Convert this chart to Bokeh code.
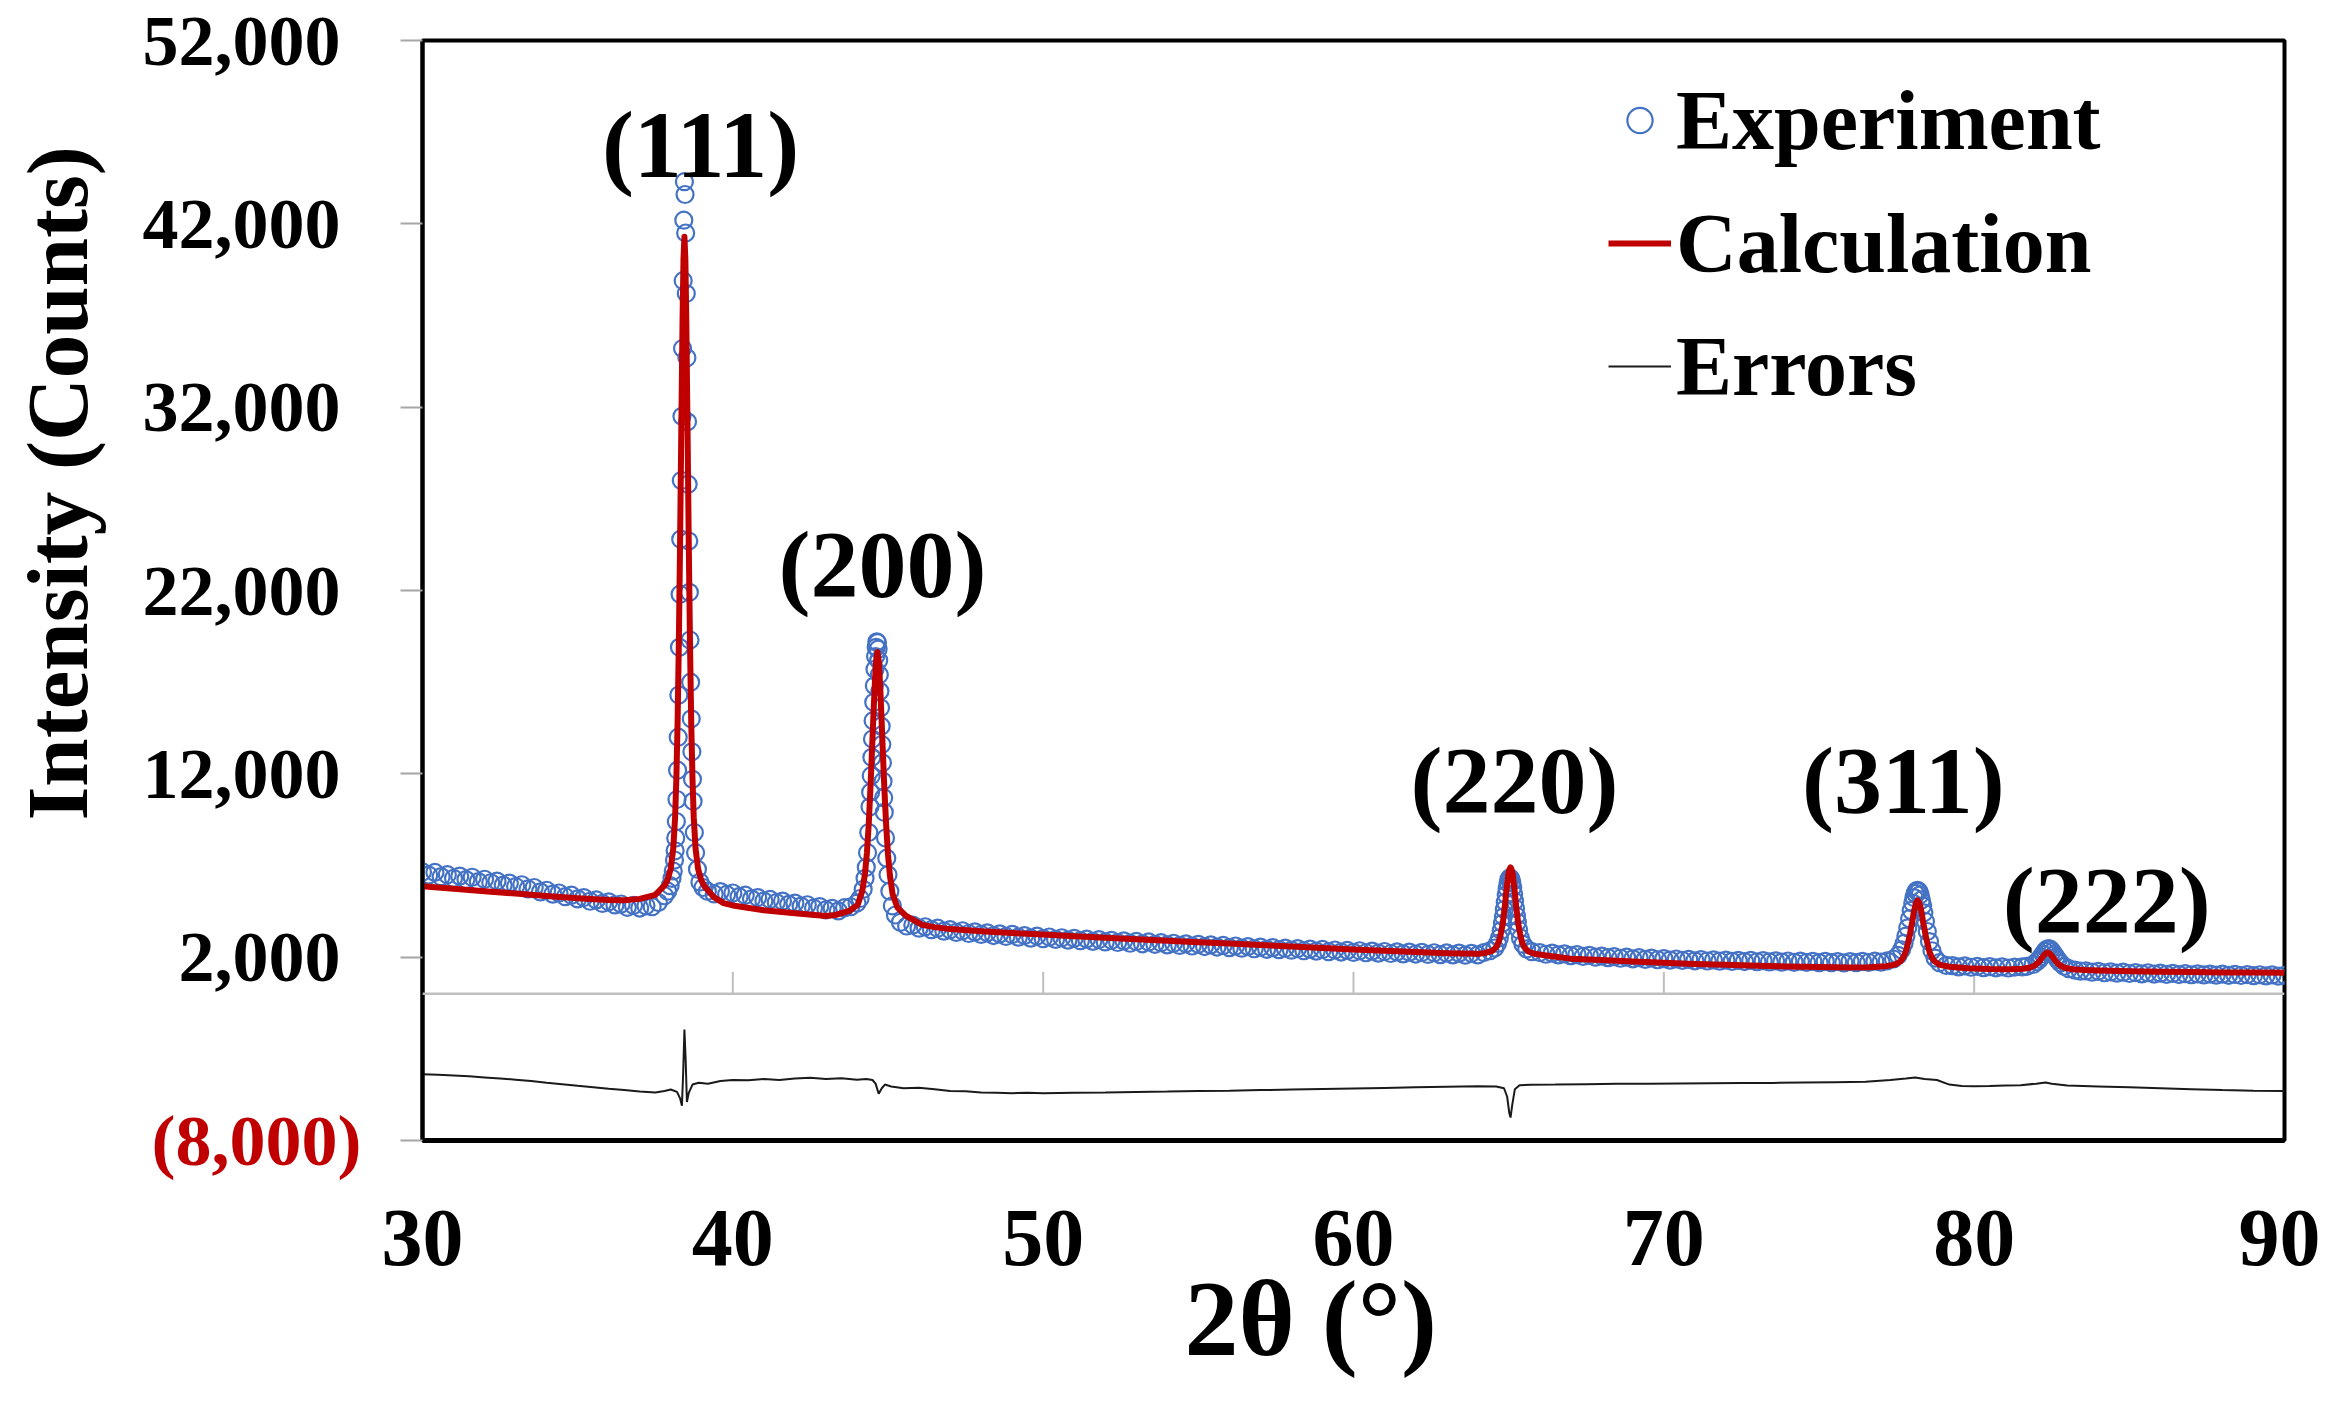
import math
from bokeh.plotting import figure
from bokeh.models import (Range1d, FixedTicker, NumeralTickFormatter, Label, Span,
                          Legend, LegendItem, LinearAxis, Title)
from bokeh.embed import file_html
from bokeh.resources import INLINE

# ------------------------------------------------------------------ data
# Experiment: background parts on a uniform 0.2 deg scan grid (start, step, counts)
exp_bg1_start, exp_bg1_step = 30.0, 0.2
exp_bg1_counts = [6650, 6480, 6620, 6390, 6500, 6300, 6420, 6230, 6360, 6120,
                  6250, 6060, 6150, 5930, 6040, 5850, 5950, 5720, 5800, 5560,
                  5650, 5440, 5500, 5300, 5380, 5180, 5250, 5050, 5120, 4930,
                  5020, 4850, 4900, 4720, 4820, 4680, 4800, 4750, 4980]
exp_bg2_start, exp_bg2_step = 39.4, 0.2
exp_bg2_counts = [5450, 5580, 5420, 5500, 5300, 5380, 5180, 5250, 5060, 5150,
                  4980, 5060, 4880, 4950, 4780, 4860, 4680, 4760, 4580, 4660, 4520]
exp_bg3_start, exp_bg3_step = 45.8, 0.2
exp_bg3_counts = [3750, 3580, 3660, 3500, 3580, 3420, 3500, 3350, 3440, 3290,
                  3380, 3240, 3330, 3180, 3270, 3130, 3240, 3090, 3180, 3040,
                  3150, 3010, 3100, 2970, 3060, 2930, 3030, 2900, 2990, 2860,
                  2960, 2830, 2920, 2800, 2890, 2760, 2860, 2730, 2830, 2700,
                  2790, 2670, 2760, 2640, 2730, 2610, 2700, 2580, 2670, 2550,
                  2640, 2520, 2610, 2490, 2580, 2460, 2550, 2430, 2520, 2410,
                  2490, 2380, 2470, 2350, 2440, 2330, 2420, 2300, 2390, 2280,
                  2370, 2260, 2350, 2240, 2330, 2220, 2310, 2200, 2290, 2180,
                  2270, 2170, 2260, 2150, 2240, 2140, 2230, 2120, 2220, 2110,
                  2210, 2120, 2250]
exp_bg4_start, exp_bg4_step = 66.0, 0.2
exp_bg4_counts = [2250, 2160, 2220, 2120, 2180, 2080, 2140, 2040, 2100, 2000,
                  2060, 1970, 2030, 1940, 2000, 1910, 1970, 1880, 1950, 1860,
                  1920, 1840, 1900, 1820, 1880, 1800, 1870, 1790, 1850, 1780,
                  1840, 1770, 1830, 1760, 1820, 1750, 1810, 1740, 1800, 1730,
                  1790, 1720, 1780, 1710, 1770, 1700, 1770, 1700, 1760, 1690,
                  1760, 1700, 1770, 1710, 1780, 1730]
exp_bg5_start, exp_bg5_step = 79.3, 0.2
exp_bg5_counts = [1540, 1470, 1520, 1450, 1500, 1430, 1480, 1420, 1470, 1410, 1460]
exp_bg6_start, exp_bg6_step = 83.6, 0.2
exp_bg6_counts = [1250, 1180, 1230, 1150, 1200, 1130, 1180, 1110, 1160, 1090,
                  1150, 1080, 1130, 1060, 1120, 1050, 1100, 1040, 1090, 1030,
                  1080, 1020, 1070, 1010, 1060, 1000, 1050, 990, 1040, 980,
                  1030, 970, 1010]

# Experiment: peak windows (finer scan points)
exp_111_2theta = [37.80, 37.90, 37.98, 38.04, 38.08, 38.12, 38.14, 38.16, 38.18, 38.20,
                  38.22, 38.24, 38.26, 38.28, 38.30, 38.32, 38.34, 38.36, 38.38, 38.40,
                  38.42, 38.44, 38.46, 38.48, 38.50, 38.52, 38.54, 38.56, 38.58, 38.60,
                  38.62, 38.64, 38.66, 38.68, 38.70, 38.72, 38.76, 38.80, 38.86, 38.94,
                  39.04, 39.18]
exp_111_counts = [5350, 5600, 5900, 6300, 6700, 7300, 7800, 8500, 9400, 10600,
                  12200, 14000, 16300, 18900, 21800, 24800, 28000, 31500, 35200, 38900,
                  42200, 44300, 43600, 41500, 38200, 34700, 31200, 27800, 24700, 21900,
                  19300, 17000, 15000, 13200, 11700, 10500, 8800, 7700, 6800, 6100,
                  5800, 5600]
exp_200_2theta = [43.60, 43.80, 44.00, 44.10, 44.20, 44.26, 44.30, 44.34, 44.38, 44.42,
                  44.44, 44.46, 44.48, 44.50, 44.52, 44.54, 44.56, 44.58, 44.60, 44.62,
                  44.64, 44.66, 44.68, 44.70, 44.72, 44.74, 44.76, 44.78, 44.80, 44.82,
                  44.84, 44.86, 44.88, 44.92, 44.96, 45.00, 45.06, 45.14, 45.24, 45.40,
                  45.60]
exp_200_counts = [4700, 4750, 4950, 5200, 5700, 6300, 6900, 7700, 8800, 10200,
                  11000, 11900, 12900, 13900, 14900, 15900, 16800, 17700, 18400, 18900,
                  19200, 19150, 18800, 18200, 17400, 16500, 15600, 14600, 13600, 12600,
                  11600, 10700, 9900, 8500, 7400, 6500, 5600, 4800, 4300, 3900,
                  3700]
exp_220_2theta = [64.40, 64.55, 64.64, 64.70, 64.76, 64.80, 64.83, 64.86, 64.89, 64.92,
                  64.95, 64.98, 65.01, 65.04, 65.07, 65.10, 65.13, 65.16, 65.19, 65.22,
                  65.25, 65.28, 65.32, 65.38, 65.46, 65.58, 65.75]
exp_220_counts = [2350, 2500, 2750, 3050, 3450, 3850, 4200, 4600, 5000, 5400,
                  5750, 6050, 6250, 6330, 6280, 6100, 5800, 5450, 5050, 4650,
                  4250, 3900, 3500, 3050, 2700, 2450, 2300]
exp_311_2theta = [77.20, 77.40, 77.55, 77.66, 77.74, 77.80, 77.86, 77.92, 77.97, 78.02,
                  78.06, 78.10, 78.14, 78.18, 78.22, 78.26, 78.30, 78.34, 78.38, 78.43,
                  78.49, 78.56, 78.64, 78.74, 78.88, 79.10]
exp_311_counts = [1800, 1900, 2100, 2400, 2750, 3150, 3600, 4100, 4550, 4950,
                  5250, 5480, 5620, 5650, 5580, 5400, 5120, 4800, 4420, 3950,
                  3400, 2850, 2350, 1950, 1700, 1550]
exp_222_2theta = [81.55, 81.70, 81.90, 82.02, 82.10, 82.16, 82.22, 82.28, 82.34, 82.40,
                  82.46, 82.52, 82.58, 82.64, 82.70, 82.78, 82.90, 83.05, 83.25, 83.42]
exp_222_counts = [1470, 1500, 1600, 1750, 1880, 2020, 2170, 2320, 2430, 2470,
                  2420, 2300, 2150, 2000, 1850, 1680, 1500, 1370, 1290, 1240]

# Calculation (fitted profile)
calc_2theta = [30, 31, 32, 33, 34, 35, 36, 36.5, 37, 37.5,
               37.80, 37.90, 38.00, 38.08, 38.14, 38.18, 38.22, 38.26, 38.30, 38.34,
               38.38, 38.41, 38.44, 38.47, 38.50, 38.54, 38.58, 38.62, 38.66, 38.70,
               38.74, 38.80, 38.88, 38.98, 39.08, 39.40, 39.70, 40.0, 41.0, 42.0, 43.0,
               43.30, 43.75, 44.02, 44.17, 44.26, 44.32, 44.38, 44.44, 44.47, 44.50,
               44.53, 44.56, 44.59, 44.62, 44.66, 44.70, 44.73, 44.76, 44.79, 44.82,
               44.85, 44.88, 44.94, 45.00, 45.06, 45.15, 45.30, 45.57, 46.10, 46.50,
               47, 48, 49, 50, 51, 52, 53, 54, 55, 56, 57, 58, 59, 60, 61, 62, 63,
               64.00, 64.25, 64.49, 64.62, 64.70, 64.75, 64.81, 64.86, 64.89, 64.91,
               64.94, 64.97, 64.99, 65.02, 65.06, 65.10, 65.13, 65.15, 65.18, 65.21,
               65.23, 65.26, 65.31, 65.37, 65.42, 65.50, 65.63, 65.87, 66.33, 67.00,
               68, 69, 70, 71, 72, 73, 74, 75, 76,
               76.60, 77.16, 77.46, 77.63, 77.73, 77.80, 77.86, 77.93, 77.96, 78.00,
               78.03, 78.06, 78.10, 78.13, 78.18, 78.23, 78.26, 78.30, 78.33, 78.36,
               78.40, 78.43, 78.50, 78.56, 78.63, 78.73, 78.90, 79.20, 79.80, 80.50,
               81.17, 81.57, 81.82, 81.97, 82.07, 82.13, 82.19, 82.25, 82.31, 82.37,
               82.43, 82.49, 82.55, 82.61, 82.67, 82.77, 82.92, 83.17, 83.57,
               84, 85, 86, 87, 88, 89, 90]
calc_counts = [5870, 5730, 5600, 5470, 5340, 5220, 5120, 5110, 5180, 5400,
               5910, 6230, 6840, 7920, 9630, 11740, 14800, 19100, 24560, 30850,
               36820, 40100, 41300, 40100, 36810, 30840, 24550, 19090, 14790, 11730,
               9620, 7910, 6820, 6200, 5870, 5260, 4950, 4820, 4560, 4400, 4250,
               4300, 4520, 4850, 5600, 6570, 7680, 9270, 11450, 12680, 13920,
               15170, 16350, 17400, 18220, 18650, 18170, 17380, 16320, 15100, 13800,
               12550, 11300, 9200, 7600, 6480, 5430, 4720, 4260, 3760, 3640,
               3530, 3420, 3320, 3230, 3140, 3060, 2980, 2900, 2820, 2740, 2660, 2580, 2500, 2420, 2350, 2280, 2220,
               2180, 2230, 2360, 2600, 2940, 3300, 3830, 4540, 4950, 5380,
               5810, 6220, 6560, 6760, 6900, 6750, 6540, 6200, 5790, 5360,
               4930, 4520, 3810, 3260, 2880, 2550, 2310, 2170, 2060, 1920,
               1840, 1760, 1690, 1630, 1580, 1530, 1490, 1460, 1440,
               1450, 1510, 1600, 1780, 2030, 2310, 2720, 3245, 3550, 3870,
               4190, 4500, 4770, 4970, 5090, 4960, 4760, 4490, 4180, 3860,
               3540, 3230, 2700, 2290, 2010, 1760, 1580, 1480, 1390, 1350,
               1340, 1370, 1440, 1565, 1720, 1840, 1980, 2110, 2210, 2250,
               2205, 2095, 1960, 1820, 1700, 1545, 1420, 1345, 1300,
               1270, 1230, 1210, 1190, 1170, 1160, 1150]

# Errors (difference curve, plotted with an offset)
err_2theta = [30.0, 30.5, 31.0, 31.5, 32.0, 32.5, 33.0, 33.5, 34.0, 34.5,
              35.0, 35.5, 36.0, 36.5, 37.0, 37.5, 37.8, 38.0, 38.2, 38.3,
              38.36, 38.40, 38.44, 38.48, 38.52, 38.58, 38.7, 38.9, 39.2, 39.6,
              40.0, 40.5, 41.0, 41.5, 42.0, 42.5, 43.0, 43.5, 44.0, 44.3,
              44.5, 44.6, 44.7, 44.8, 44.9, 45.1, 45.5, 46.0, 46.5, 47.0,
              47.5, 48.0, 48.5, 49.0, 49.5, 50.0, 51.0, 52.0, 53.0, 54.0,
              55.0, 56.0, 57.0, 58.0, 59.0, 60.0, 61.0, 62.0, 63.0, 64.0,
              64.6, 64.85, 64.95, 65.02, 65.06, 65.12, 65.2, 65.35, 65.7, 66.5,
              67.5, 68.5, 69.5, 70.5, 71.5, 72.5, 73.5, 74.5, 75.5, 76.5,
              77.3, 77.8, 78.1, 78.4, 78.8, 79.2, 79.6, 80.0, 80.5, 81.0,
              81.5, 82.0, 82.3, 82.5, 83.0, 84.0, 85.0, 86.0, 87.0, 88.0,
              89.0, 90.0]
err_counts = [-4380, -4420, -4460, -4500, -4560, -4620, -4680, -4760, -4850, -4930,
              -5020, -5100, -5180, -5250, -5330, -5380, -5300, -5220, -5350, -5700,
              -6100, -4300, -1950, -3600, -5900, -5400, -4950, -4850, -4900, -4750,
              -4700, -4720, -4650, -4700, -4620, -4580, -4650, -4600, -4680, -4650,
              -4700, -4900, -5450, -5150, -4950, -5050, -5150, -5120, -5200, -5300,
              -5320, -5380, -5400, -5420, -5400, -5420, -5400, -5380, -5350, -5330,
              -5300, -5280, -5250, -5220, -5190, -5160, -5130, -5100, -5070, -5040,
              -5050, -5150, -5600, -6500, -6750, -6000, -5200, -4980, -4960, -4950,
              -4930, -4910, -4900, -4890, -4880, -4870, -4860, -4840, -4820, -4800,
              -4700, -4620, -4560, -4640, -4700, -4950, -5030, -5040, -5030, -5000,
              -4980, -4900, -4840, -4900, -5000, -5050, -5100, -5150, -5200, -5250,
              -5280, -5300]

# Axis ticks and labels
x_ticks = [30, 40, 50, 60, 70, 80, 90]
y_ticks = [-8000, 2000, 12000, 22000, 32000, 42000, 52000]
neg_tick = -8000
neg_tick_label = "(8,000)"
peak_labels = ["(111)", "(200)", "(220)", "(311)", "(222)"]
peak_label_2theta = [38.96, 44.82, 65.19, 77.72, 84.27]
peak_label_counts = [46330, 23420, 11630, 11630, 5090]


def scan_grid(start, step, counts):
    return [round(start + i * step, 3) for i in range(len(counts))]


exp_2theta = (scan_grid(exp_bg1_start, exp_bg1_step, exp_bg1_counts) + exp_111_2theta +
              scan_grid(exp_bg2_start, exp_bg2_step, exp_bg2_counts) + exp_200_2theta +
              scan_grid(exp_bg3_start, exp_bg3_step, exp_bg3_counts) + exp_220_2theta +
              scan_grid(exp_bg4_start, exp_bg4_step, exp_bg4_counts) + exp_311_2theta +
              scan_grid(exp_bg5_start, exp_bg5_step, exp_bg5_counts) + exp_222_2theta +
              scan_grid(exp_bg6_start, exp_bg6_step, exp_bg6_counts))
exp_counts = (exp_bg1_counts + exp_111_counts + exp_bg2_counts + exp_200_counts +
              exp_bg3_counts + exp_220_counts + exp_bg4_counts + exp_311_counts +
              exp_bg5_counts + exp_222_counts + exp_bg6_counts)

# ------------------------------------------------------------------ figure
FONT = "Liberation Serif"
X0, X1 = 30, 90
Y0, Y1 = -8000, 52000
FRAME_H = 1100

p = figure(width=2320, height=1400, x_range=Range1d(X0, X1), y_range=Range1d(Y0, Y1),
           output_backend="svg", toolbar_location=None,
           min_border_left=422, min_border_right=36, min_border_top=40, min_border_bottom=260)
p.xgrid.visible = False
p.ygrid.visible = False
p.background_fill_color = "white"
p.border_fill_color = "white"
p.outline_line_color = "black"
p.outline_line_width = 4

# x axis
p.xaxis.ticker = FixedTicker(ticks=x_ticks)
p.xaxis.major_tick_out = 0
p.xaxis.major_tick_in = 0
p.xaxis.minor_tick_out = 0
p.xaxis.minor_tick_in = 0
p.xaxis.axis_line_color = "black"
p.xaxis.axis_line_width = 5
p.xaxis.major_label_text_font = FONT
p.xaxis.major_label_text_font_style = "bold"
p.xaxis.major_label_text_font_size = "82px"
p.xaxis.major_label_text_color = "black"
p.xaxis.major_label_standoff = 70

# y axis (black labels)
p.yaxis.ticker = FixedTicker(ticks=y_ticks)
p.yaxis.formatter = NumeralTickFormatter(format="0,0")
p.yaxis.major_label_overrides = {neg_tick: " "}
p.yaxis.major_tick_out = 22
p.yaxis.major_tick_in = 0
p.yaxis.minor_tick_out = 0
p.yaxis.minor_tick_in = 0
p.yaxis.major_tick_line_color = "#A6A6A6"
p.yaxis.major_tick_line_width = 2
p.yaxis.axis_line_color = "black"
p.yaxis.axis_line_width = 4
p.yaxis.major_label_text_font = FONT
p.yaxis.major_label_text_font_style = "bold"
p.yaxis.major_label_text_font_size = "72px"
p.yaxis.major_label_text_color = "black"
p.yaxis.major_label_standoff = 60

# second left axis carrying only the red negative tick label
red_axis = LinearAxis(ticker=FixedTicker(ticks=[neg_tick]),
                      major_label_overrides={neg_tick: neg_tick_label},
                      major_tick_out=0, major_tick_in=0, minor_tick_out=0, minor_tick_in=0,
                      axis_line_color=None, major_tick_line_color=None,
                      major_label_text_font=FONT, major_label_text_font_style="bold",
                      major_label_text_font_size="72px", major_label_text_color="#C00000",
                      major_label_standoff=-222,
                      axis_label=" ", axis_label_standoff=43, axis_label_text_font_size="10px")
p.add_layout(red_axis, "left")

# axis titles
y_title = Title(text="Intensity (Counts)", align="left", offset=320, vertical_align="bottom",
                standoff=-28, text_font=FONT, text_font_style="bold", text_font_size="87px",
                text_color="black")
p.add_layout(y_title, "left")
x_title = Title(text="2\u03b8 (\u00b0)", align="left", offset=762, vertical_align="top",
                standoff=-18, text_font=FONT, text_font_style="bold", text_font_size="108px",
                text_color="black")
p.add_layout(x_title, "below")

# zero line with its tick marks
p.add_layout(Span(location=0, dimension="width", line_color="#BFBFBF", line_width=2.5))
tick_len = 22 * (Y1 - Y0) / FRAME_H
inner_ticks = [t for t in x_ticks if X0 < t < X1]
p.segment(x0=inner_ticks, y0=[0] * len(inner_ticks), x1=inner_ticks,
          y1=[tick_len] * len(inner_ticks), line_color="#BFBFBF", line_width=2)

# data
r_exp = p.scatter(exp_2theta, exp_counts, marker="circle", size=17,
                  line_color="#4472C4", line_width=2.2, fill_alpha=0)
r_calc = p.line(calc_2theta, calc_counts, line_color="#C00000", line_width=6,
                line_join="round")
r_err = p.line(err_2theta, err_counts, line_color="#1a1a1a", line_width=2)

# peak labels
for txt, px, py in zip(peak_labels, peak_label_2theta, peak_label_counts):
    p.add_layout(Label(x=px, y=py, text=txt, text_align="center", text_baseline="alphabetic",
                       text_font=FONT, text_font_style="bold", text_font_size="96px",
                       text_color="black"))

# legend
legend = Legend(items=[LegendItem(label="Experiment", renderers=[r_exp]),
                       LegendItem(label="Calculation", renderers=[r_calc]),
                       LegendItem(label="Errors", renderers=[r_err])],
                location=(1186, 724), orientation="vertical",
                label_text_font=FONT, label_text_font_style="bold",
                label_text_font_size="84px", label_text_color="black",
                glyph_width=63, glyph_height=100, label_height=100, spacing=23,
                padding=0, margin=0, label_standoff=5,
                border_line_alpha=0, background_fill_alpha=0)
p.add_layout(legend)

open("out.html", "w").write(file_html(p, INLINE))
